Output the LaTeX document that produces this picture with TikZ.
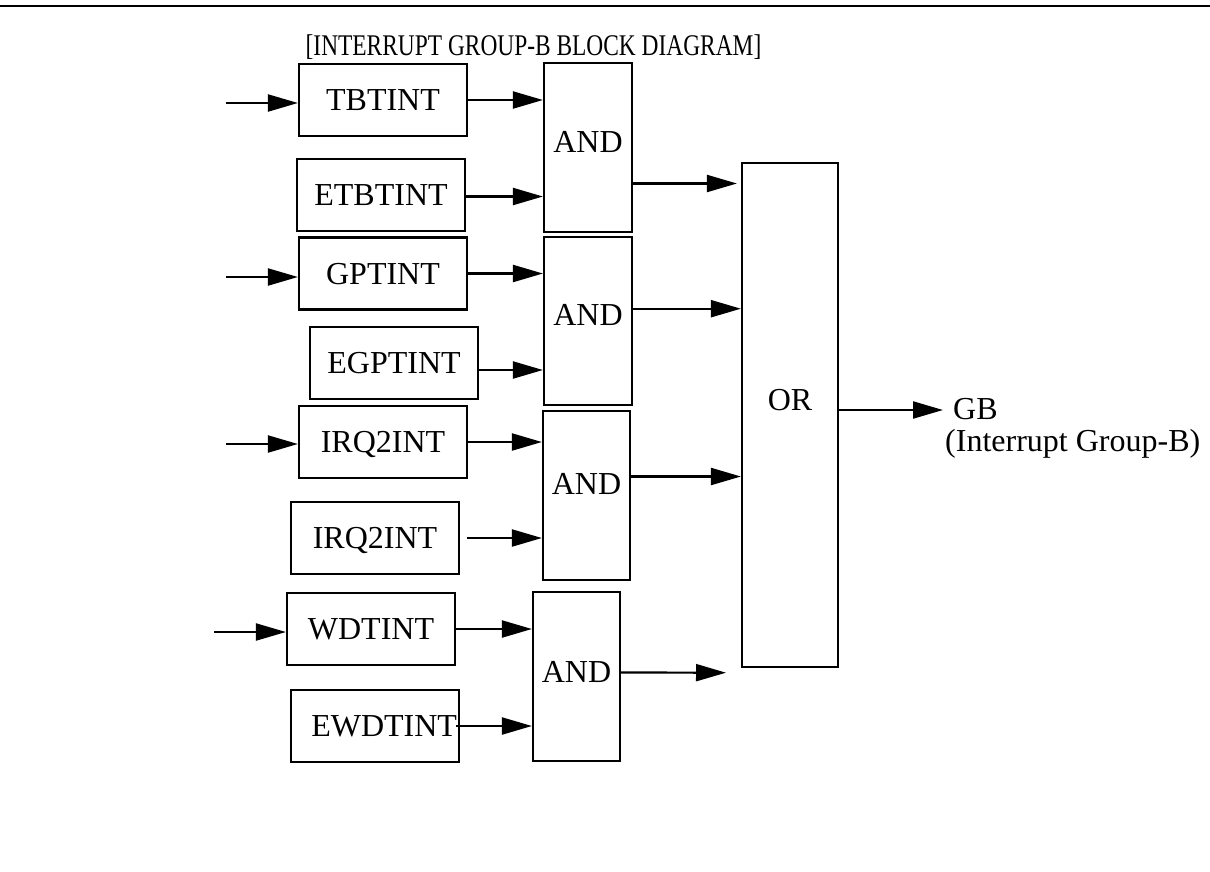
\documentclass[tikz,border=0pt]{standalone}
\usepackage{fontspec}
\setmainfont{Liberation Serif}
\usepackage{graphicx}
\usepackage{tikz}
\usetikzlibrary{arrows.meta}

\begin{document}
\begin{tikzpicture}[x=1pt, y=-1pt,
    blk/.style={draw, line width=2.2pt, minimum width=168pt, minimum height=72pt, inner sep=2pt, text depth=0pt, font=\fontsize{32}{32}\selectfont},
    gate/.style={draw, line width=2.2pt, minimum width=88pt, inner sep=2pt, text depth=12pt, font=\fontsize{32}{32}\selectfont},
    sig/.style={line width=2.2pt, -{Triangle[length=30pt, width=17pt]}}]
    \useasboundingbox (0,0) rectangle (1210,871);
    %the rule and the title
    \draw[line width=2.4pt] (0,6) -- (1210,6);
    \node[anchor=base, inner sep=0pt, font=\fontsize{30}{30}\selectfont] (title) at (533.5,55) {\scalebox{0.78}[1]{[INTERRUPT GROUP-B BLOCK DIAGRAM]}};
    %the interrupt sources
    \node[blk] (tbt) at (383,100) {TBTINT};
    \node[blk] (etb) at (381,195) {ETBTINT};
    \node[blk] (gpt) at (383,273.5) {GPTINT};
    \node[blk] (egp) at (394,363) {EGPTINT};
    \node[blk] (irqa) at (383,442) {IRQ2INT};
    \node[blk] (irqb) at (375,538) {IRQ2INT};
    \node[blk] (wdt) at (371,629) {WDTINT};
    \node[blk, text width=164pt, inner xsep=2pt, align=right] (ewd) at (375,726) {EWDTINT};
    %the gates
    \node[gate, minimum height=169pt] (and1) at (588,147.5) {AND};
    \node[gate, minimum height=168pt] (and2) at (588,321) {AND};
    \node[gate, minimum width=87pt, minimum height=169pt, text depth=24pt] (and3) at (586.5,495.5) {AND};
    \node[gate, minimum width=87pt, minimum height=169pt, text depth=10pt] (and4) at (576.5,676.5) {AND};
    \node[gate, minimum width=96pt, minimum height=504pt, text depth=30pt] (or) at (790,415) {OR};
    %the output label
    \node[anchor=base west, inner sep=0pt, font=\fontsize{32}{32}\selectfont] (gb) at (953,419) {GB};
    \node[anchor=base west, inner sep=0pt, font=\fontsize{32}{32}\selectfont] (gbtext) at (945,451) {(Interrupt Group-B)};
    %free ends
    \coordinate (inTB) at (226,103);
    \coordinate (inGP) at (226,277);
    \coordinate (inIR) at (226,444);
    \coordinate (inWD) at (214,632);
    \coordinate (outAND) at (726,672.7);
    \coordinate (gbin) at (943,410);
    %the inputs
    \draw[sig] (inTB) -- (inTB -| tbt.west);
    \draw[sig] (inGP) -- (inGP -| gpt.west);
    \draw[sig] (inIR) -- (inIR -| irqa.west);
    \draw[sig] (inWD) -- (inWD -| wdt.west);
    %into the gates
    \draw[sig] (tbt.east) -- (tbt.east -| and1.west);
    \draw[sig] ([yshift=-1.5pt]etb.east) -- ([yshift=-1.5pt]etb.east -| and1.west);
    \draw[sig] (gpt.east) -- (gpt.east -| and2.west);
    \draw[sig] ([yshift=-7pt]egp.east) -- ([yshift=-7pt]egp.east -| and2.west);
    \draw[sig] (irqa.east) -- (irqa.east -| and3.west);
    \draw[sig] ([xshift=7pt]irqb.east) -- (irqb.east -| and3.west);
    \draw[sig] (wdt.east) -- (wdt.east -| and4.west);
    \draw[sig] ([xshift=-4.5pt]ewd.east) -- (ewd.east -| and4.west);
    %into the OR
    \draw[sig, shorten >=4pt] ([yshift=-36pt]and1.east) -- ([yshift=-36pt]and1.east -| or.west);
    \draw[sig] ([yshift=12.3pt]and2.east) -- ([yshift=12.3pt]and2.east -| or.west);
    \draw[sig] ([yshift=19pt]and3.east) -- ([yshift=19pt]and3.east -| or.west);
    \draw[sig] ([yshift=4pt]and4.east) -- (outAND);
    %the output
    \draw[sig] (or.east |- gbin) -- (gbin);
\end{tikzpicture}
\end{document}
